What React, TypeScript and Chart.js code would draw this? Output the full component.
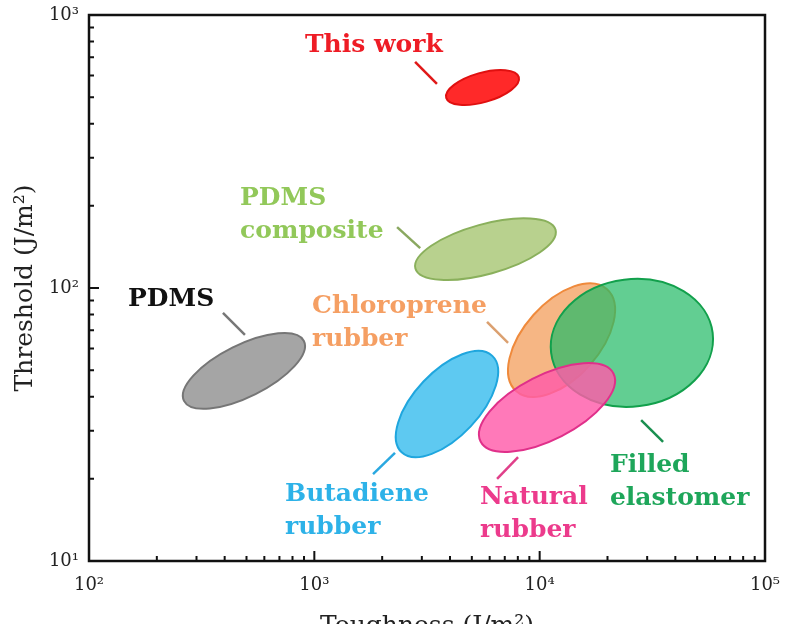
import { useEffect, useRef } from 'react';
import { Chart, registerables } from 'chart.js';

Chart.register(...registerables);

// ---- data ----
// drawing order: back to front
const materials = ['This work', 'PDMS composite', 'PDMS', 'Butadiene rubber', 'Chloroprene rubber', 'Filled elastomer', 'Natural rubber'];
const toughnessMin = [3840, 2800, 261, 2300, 7240, 11200, 5380];   // J/m^2
const toughnessMax = [8100, 11800, 909, 6540, 21600, 58800, 21600];
const thresholdMin = [468, 107, 36.1, 24.0, 39.9, 36.7, 25.1];     // J/m^2
const thresholdMax = [629, 180, 68.4, 58.8, 104, 108, 53.1];

// label text + anchor (data coordinates)
const labelLines = [['This work'], ['PDMS', 'composite'], ['PDMS'], ['Butadiene', 'rubber'], ['Chloroprene', 'rubber'], ['Filled', 'elastomer'], ['Natural', 'rubber']];
const labelX = [909, 468, 149, 741, 977, 20500, 5440];
const labelY = [770, 212, 90.4, 17.45, 85.2, 22.3, 17.15];
// leader lines (data coordinates)
const leaderX1 = [2800, 2330, 393, 1822, 5840, 28200, 6470];
const leaderY1 = [673, 167, 81, 20.8, 75.1, 32.8, 20.0];
const leaderX2 = [3500, 2950, 492, 2280, 7240, 35300, 8020];
const leaderY2 = [559, 140, 67.3, 24.9, 62.9, 27.3, 24.0];

// axes
const xMajorValues = [100, 1000, 10000, 100000];
const xTickLabels = ['10²', '10³', '10⁴', '10⁵'];
const yMajorValues = [10, 100, 1000];
const yTickLabels = ['10¹', '10²', '10³'];
const minorMultiples = [2, 3, 4, 5, 6, 7, 8, 9];

// ---- styles ----
const tilt = [0.5, 0.55, 0.66, 0.61, 0.53, 0.06, 0.61]; // shape correlation of each ellipse
const fillColors = [
  'rgba(255,30,30,0.95)',
  'rgba(176,204,130,0.9)',
  'rgba(160,160,160,0.95)',
  'rgba(80,196,240,0.92)',
  'rgba(245,172,115,0.88)',
  'rgba(38,187,104,0.72)',
  'rgba(255,92,170,0.82)',
];
const strokeColors = ['#e01010', '#8ab05c', '#767676', '#1fa6de', '#ef8a3c', '#12a04c', '#e0308a'];
const textColors = ['#ee1c25', '#92c85a', '#111111', '#2db2e8', '#f59f63', '#1ea65a', '#ec3b8c'];
const leaderColors = ['#e01818', '#8aa860', '#777777', '#2aa8e0', '#dba070', '#1a8f50', '#e0408a'];

const SERIF = "'DejaVu Serif', 'Liberation Serif', serif";

function buildTicks(majors: number[]) {
  const vals: number[] = [];
  majors.forEach((m, i) => {
    vals.push(m);
    if (i < majors.length - 1) minorMultiples.forEach((k) => vals.push(m * k));
  });
  return vals.map((v) => ({ value: v, major: majors.includes(v) }));
}

const drawPlugin = {
  id: 'ashbyDraw',
  afterDatasetsDraw(chart: any) {
    const { ctx, scales } = chart;
    const sx = scales.x;
    const sy = scales.y;
    ctx.save();
    for (let i = 0; i < materials.length; i++) {
      const x1 = sx.getPixelForValue(toughnessMin[i]);
      const x2 = sx.getPixelForValue(toughnessMax[i]);
      const y1 = sy.getPixelForValue(thresholdMin[i]);
      const y2 = sy.getPixelForValue(thresholdMax[i]);
      const cx = (x1 + x2) / 2;
      const cy = (y1 + y2) / 2;
      const hw = Math.abs(x2 - x1) / 2;
      const hh = Math.abs(y2 - y1) / 2;
      const r = tilt[i];
      const m11 = hw * hw;
      const m22 = hh * hh;
      const m12 = -r * hw * hh;
      const theta = 0.5 * Math.atan2(2 * m12, m11 - m22);
      const mean = (m11 + m22) / 2;
      const d = Math.sqrt(((m11 - m22) / 2) ** 2 + m12 * m12);
      const a = Math.sqrt(mean + d);
      const b = Math.sqrt(Math.max(mean - d, 0.5));
      ctx.beginPath();
      ctx.ellipse(cx, cy, a, b, theta, 0, Math.PI * 2);
      ctx.fillStyle = fillColors[i];
      ctx.fill();
      ctx.lineWidth = 2;
      ctx.strokeStyle = strokeColors[i];
      ctx.stroke();
    }
    ctx.restore();
  },
  afterDraw(chart: any) {
    const { ctx, chartArea, scales } = chart;
    const sx = scales.x;
    const sy = scales.y;
    ctx.save();
    // frame
    ctx.strokeStyle = '#111';
    ctx.lineWidth = 2.5;
    ctx.strokeRect(chartArea.left, chartArea.top, chartArea.right - chartArea.left, chartArea.bottom - chartArea.top);
    // inward ticks
    ctx.lineWidth = 2;
    ctx.beginPath();
    sx.ticks.forEach((t: any) => {
      const px = sx.getPixelForValue(t.value);
      const len = xMajorValues.includes(t.value) ? 10 : 5;
      ctx.moveTo(px, chartArea.bottom);
      ctx.lineTo(px, chartArea.bottom - len);
    });
    sy.ticks.forEach((t: any) => {
      const py = sy.getPixelForValue(t.value);
      const len = yMajorValues.includes(t.value) ? 10 : 5;
      ctx.moveTo(chartArea.left, py);
      ctx.lineTo(chartArea.left + len, py);
    });
    ctx.stroke();

    // leader lines
    ctx.lineWidth = 2.5;
    for (let i = 0; i < materials.length; i++) {
      ctx.beginPath();
      ctx.strokeStyle = leaderColors[i];
      ctx.moveTo(sx.getPixelForValue(leaderX1[i]), sy.getPixelForValue(leaderY1[i]));
      ctx.lineTo(sx.getPixelForValue(leaderX2[i]), sy.getPixelForValue(leaderY2[i]));
      ctx.stroke();
    }
    // labels
    ctx.font = `bold 25px ${SERIF}`;
    ctx.textAlign = 'left';
    ctx.textBaseline = 'middle';
    for (let i = 0; i < materials.length; i++) {
      const px = sx.getPixelForValue(labelX[i]);
      const py = sy.getPixelForValue(labelY[i]);
      ctx.fillStyle = textColors[i];
      labelLines[i].forEach((line, k) => ctx.fillText(line, px, py + k * 33));
    }
    ctx.restore();
  },
};

export default function App() {
  const canvasRef = useRef<HTMLCanvasElement | null>(null);

  useEffect(() => {
    const canvas = canvasRef.current;
    if (!canvas) return;
    const chart = new Chart(canvas, {
      type: 'scatter',
      data: { datasets: [] },
      options: {
        responsive: false,
        animation: false,
        devicePixelRatio: 1,
        layout: { padding: { top: 15, right: 25, left: 0, bottom: 0 } },
        plugins: { legend: { display: false }, tooltip: { enabled: false } },
        scales: {
          x: {
            type: 'logarithmic',
            position: 'bottom',
            min: 100,
            max: 100000,
            grid: { display: false, drawTicks: false },
            border: { display: false },
            afterBuildTicks: (scale: any) => {
              scale.ticks = buildTicks(xMajorValues);
            },
            afterFit: (scale: any) => {
              scale.height = 63;
              scale.paddingLeft = 0;
              scale.paddingRight = 0;
            },
            ticks: {
              autoSkip: false,
              maxRotation: 0,
              padding: 14,
              color: '#222',
              font: { family: SERIF, size: 18 },
              callback: (value: any) => {
                const idx = xMajorValues.indexOf(Number(value));
                return idx >= 0 ? xTickLabels[idx] : '';
              },
            },
            title: {
              display: true,
              text: 'Toughness (J/m²)',
              color: '#222',
              font: { family: SERIF, size: 25 },
              padding: { top: 0, bottom: -17 },
            },
          },
          y: {
            type: 'logarithmic',
            position: 'left',
            min: 10,
            max: 1000,
            grid: { display: false, drawTicks: false },
            border: { display: false },
            afterBuildTicks: (scale: any) => {
              scale.ticks = buildTicks(yMajorValues);
            },
            afterFit: (scale: any) => {
              scale.width = 89;
              scale.paddingTop = 0;
              scale.paddingBottom = 0;
            },
            ticks: {
              autoSkip: false,
              padding: 10,
              color: '#222',
              font: { family: SERIF, size: 18 },
              callback: (value: any) => {
                const idx = yMajorValues.indexOf(Number(value));
                return idx >= 0 ? yTickLabels[idx] : '';
              },
            },
            title: {
              display: true,
              text: 'Threshold (J/m²)',
              color: '#222',
              font: { family: SERIF, size: 25 },
              padding: { top: 10, bottom: 0 },
            },
          },
        },
      },
      plugins: [drawPlugin],
    } as any);
    return () => chart.destroy();
  }, []);

  return (
    <div style={{ position: 'fixed', left: 0, top: 0, width: 790, height: 624, background: '#fff' }}>
      <canvas ref={canvasRef} width={790} height={624} style={{ display: 'block', width: 790, height: 624 }} />
    </div>
  );
}
